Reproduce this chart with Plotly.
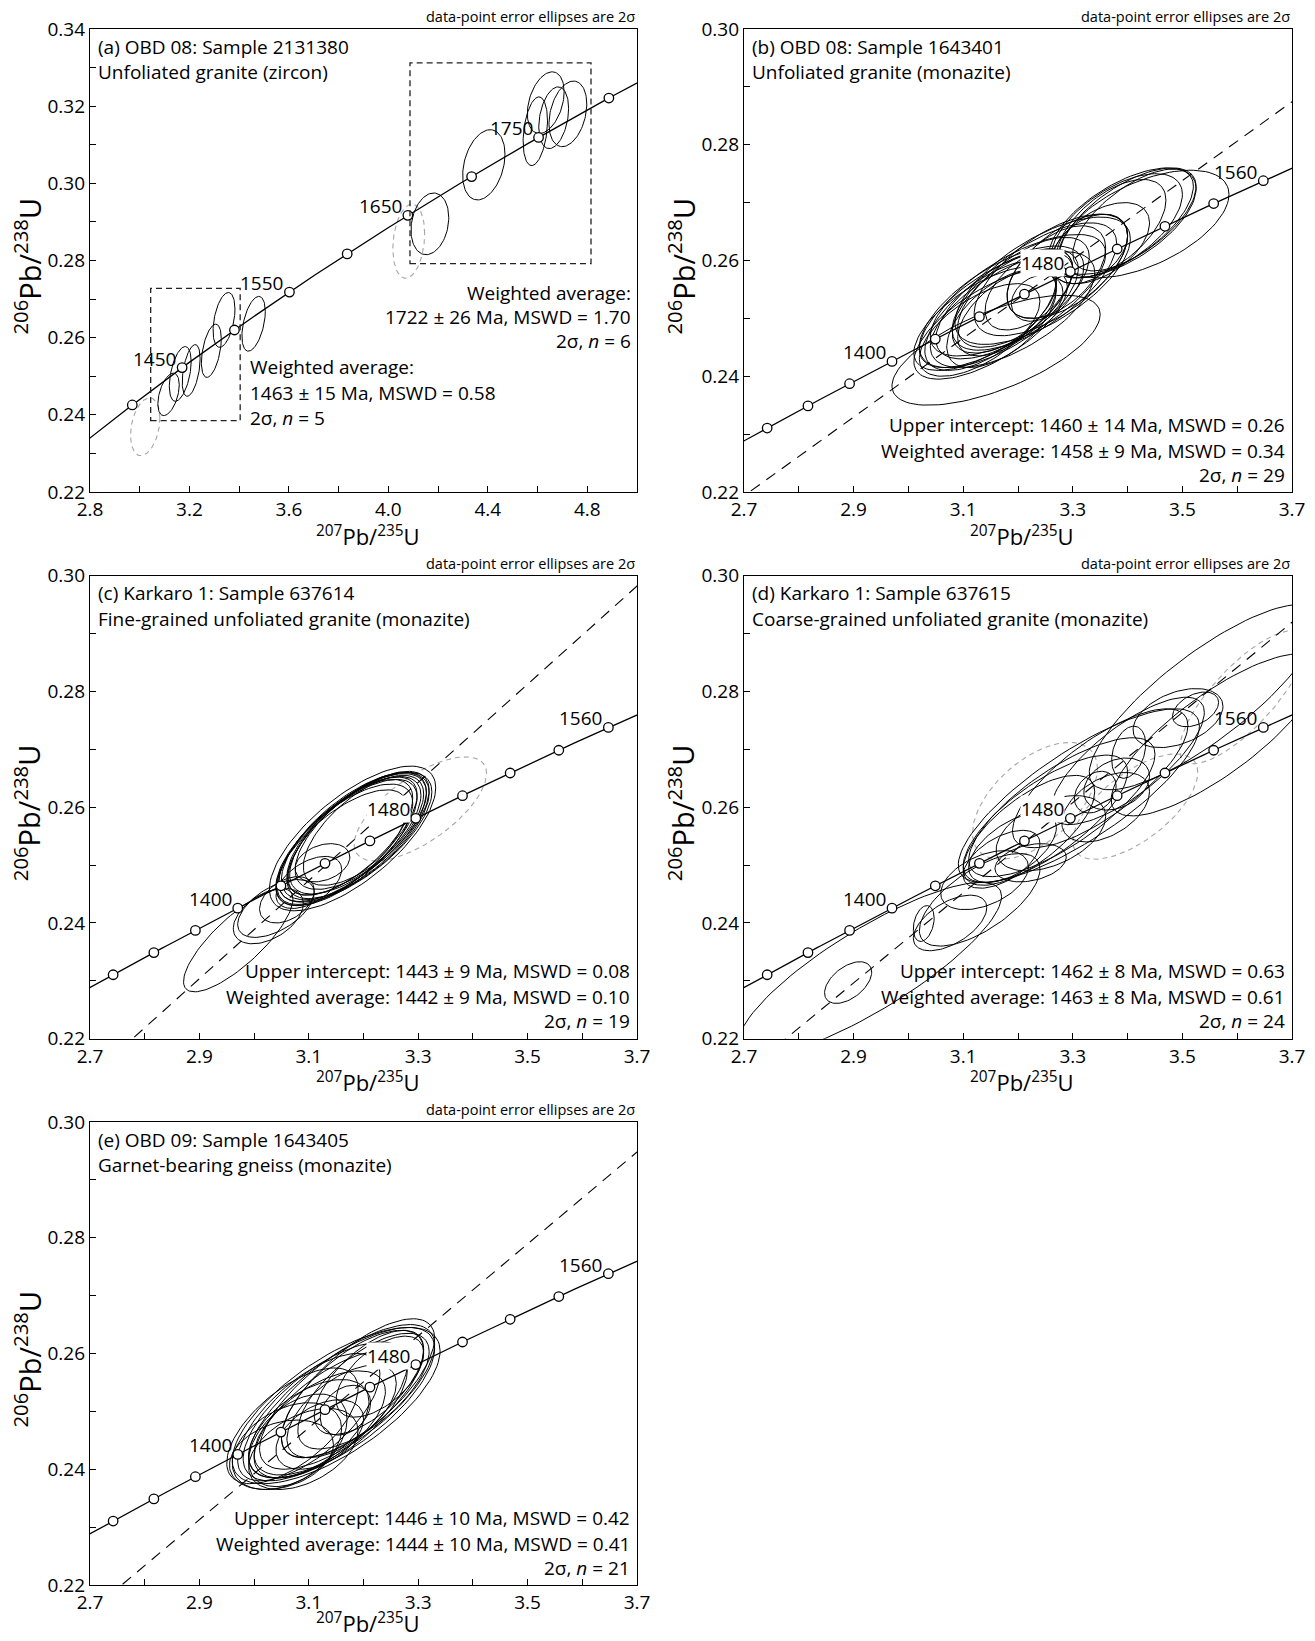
import numpy as np
import plotly.graph_objects as go

# ---------------- constants ----------------
LAMBDA_238 = 1.55125e-10
LAMBDA_235 = 9.8485e-10
FONT = "Open Sans"

# ---------------- panel (a) data ----------------
A_X = [3.116, 3.163, 3.207, 3.288, 3.339, 3.458, 3.022, 4.167, 4.384, 4.591, 4.633, 4.722, 4.665, 4.082]
A_Y = [0.2453, 0.2506, 0.2515, 0.2566, 0.2646, 0.2636, 0.2369, 0.2895, 0.3048, 0.3135, 0.3209, 0.3180, 0.3170, 0.2850]
A_SX = [0.043, 0.044, 0.036, 0.040, 0.044, 0.047, 0.059, 0.076, 0.085, 0.049, 0.074, 0.076, 0.060, 0.064]
A_SY = [0.0055, 0.0071, 0.0067, 0.0069, 0.0071, 0.0071, 0.0075, 0.0080, 0.0091, 0.0089, 0.0080, 0.0085, 0.0080, 0.0096]
A_RHO = [0.45, 0.45, 0.45, 0.45, 0.40, 0.45, 0.30, 0.20, 0.30, 0.30, 0.35, 0.30, 0.30, 0.20]
A_GREY = [0, 0, 0, 0, 0, 0, 1, 0, 0, 0, 0, 0, 0, 1]
A_TICK_AGES = [1400, 1450, 1500, 1550, 1600, 1650, 1700, 1750, 1800]
A_LABEL_AGES = [1450, 1550, 1650, 1750]
A_BOX_X0 = [3.044, 4.087]
A_BOX_X1 = [3.404, 4.815]
A_BOX_Y0 = [0.2385, 0.2792]
A_BOX_Y1 = [0.2728, 0.3312]

# ---------------- panel (b) data ----------------
B_X = [3.160, 3.430, 3.390, 3.400, 3.380, 3.410, 3.370, 3.350, 3.330, 3.245, 3.260, 3.230, 3.290, 3.270, 3.235,
       3.170, 3.160, 3.180, 3.150, 3.190, 3.140, 3.200, 3.170, 3.130, 3.210, 3.180, 3.220, 3.150, 3.190]
B_Y = [0.2445, 0.2663, 0.2665, 0.2668, 0.2660, 0.2670, 0.2655, 0.2630, 0.2620, 0.2565, 0.2575, 0.2555, 0.2590, 0.2580, 0.2535,
       0.2520, 0.2515, 0.2525, 0.2505, 0.2530, 0.2500, 0.2540, 0.2500, 0.2480, 0.2545, 0.2510, 0.2550, 0.2490, 0.2515]
B_SX = [0.190, 0.155, 0.135, 0.125, 0.120, 0.110, 0.100, 0.090, 0.070, 0.160, 0.140, 0.150, 0.110, 0.090, 0.047,
        0.150, 0.140, 0.130, 0.120, 0.110, 0.130, 0.160, 0.100, 0.110, 0.120, 0.090, 0.080, 0.140, 0.150]
B_SY = [0.0095, 0.0093, 0.0095, 0.0092, 0.0090, 0.0088, 0.0085, 0.0070, 0.0060, 0.0110, 0.0105, 0.0110, 0.0090, 0.0080, 0.0040,
        0.0105, 0.0100, 0.0095, 0.0095, 0.0090, 0.0090, 0.0105, 0.0085, 0.0080, 0.0095, 0.0075, 0.0070, 0.0095, 0.0100]
B_RHO = [0.65, 0.55, 0.62, 0.65, 0.60, 0.66, 0.58, 0.50, 0.40, 0.66, 0.64, 0.68, 0.58, 0.52, 0.25,
         0.66, 0.68, 0.64, 0.64, 0.62, 0.66, 0.68, 0.58, 0.62, 0.64, 0.58, 0.52, 0.68, 0.64]
B_GREY = [0] * 29

# ---------------- panel (c) data ----------------
C_X = [3.180, 3.185, 3.175, 3.190, 3.170, 3.195, 3.180, 3.165, 3.200, 3.185, 3.175, 3.160, 3.190, 3.125,
       3.026, 2.971, 3.060, 3.100, 3.040, 3.304]
C_Y = [0.2546, 0.2550, 0.2545, 0.2555, 0.2540, 0.2558, 0.2550, 0.2535, 0.2560, 0.2548, 0.2548, 0.2530, 0.2552, 0.2504,
       0.2412, 0.2370, 0.2440, 0.2470, 0.2425, 0.2597]
C_SX = [0.152, 0.135, 0.130, 0.125, 0.128, 0.120, 0.118, 0.125, 0.110, 0.140, 0.115, 0.120, 0.130, 0.050,
        0.064, 0.100, 0.050, 0.060, 0.070, 0.121]
C_SY = [0.0125, 0.0110, 0.0108, 0.0105, 0.0108, 0.0100, 0.0102, 0.0105, 0.0095, 0.0112, 0.0100, 0.0100, 0.0110, 0.0033,
        0.0048, 0.0089, 0.0040, 0.0045, 0.0050, 0.0090]
C_RHO = [0.70, 0.68, 0.70, 0.68, 0.71, 0.66, 0.70, 0.68, 0.66, 0.70, 0.68, 0.69, 0.70, 0.30,
         0.45, 0.80, 0.40, 0.50, 0.55, 0.68]
C_GREY = [0] * 19 + [1]

# ---------------- panel (d) data ----------------
D_X = [3.540, 3.560, 3.524, 3.492, 3.402, 2.930, 2.890, 3.028, 3.076, 3.139, 3.223, 3.341, 3.311, 3.280,
       3.250, 3.220, 3.350, 3.400, 3.190, 3.360, 3.260, 3.170, 3.380, 3.130, 3.231, 3.414, 3.610]
D_Y = [0.2790, 0.2725, 0.2769, 0.2754, 0.2695, 0.2320, 0.2297, 0.2399, 0.2400, 0.2474, 0.2504, 0.2626, 0.2620, 0.2600,
       0.2580, 0.2560, 0.2650, 0.2680, 0.2530, 0.2600, 0.2555, 0.2510, 0.2640, 0.2440, 0.2611, 0.2601, 0.2790]
D_SX = [0.210, 0.190, 0.042, 0.082, 0.031, 0.240, 0.043, 0.019, 0.067, 0.080, 0.065, 0.038, 0.220, 0.170,
        0.150, 0.120, 0.160, 0.140, 0.080, 0.080, 0.100, 0.070, 0.060, 0.110, 0.114, 0.114, 0.115]
D_SY = [0.0160, 0.0140, 0.0030, 0.0051, 0.0045, 0.0150, 0.0036, 0.0031, 0.0048, 0.0051, 0.0033, 0.0036, 0.0150, 0.0120,
        0.0110, 0.0095, 0.0120, 0.0110, 0.0060, 0.0060, 0.0065, 0.0050, 0.0045, 0.0080, 0.0101, 0.0091, 0.0115]
D_RHO = [0.82, 0.80, 0.40, 0.40, 0.30, 0.84, 0.50, 0.30, 0.55, 0.45, 0.30, 0.30, 0.80, 0.76,
         0.74, 0.70, 0.76, 0.76, 0.58, 0.45, 0.45, 0.55, 0.30, 0.66, 0.55, 0.65, 0.78]
D_GREY = [0] * 24 + [1, 1, 1]

# ---------------- panel (e) data ----------------
E_X = [3.150, 3.160, 3.130, 3.170, 3.100, 3.080, 3.120, 3.180, 3.200, 3.167, 3.060, 3.050, 3.090, 3.140,
       3.190, 3.210, 3.100, 3.070, 3.160, 3.230, 3.120]
E_Y = [0.2510, 0.2515, 0.2500, 0.2525, 0.2470, 0.2450, 0.2480, 0.2530, 0.2535, 0.2502, 0.2440, 0.2425, 0.2435, 0.2495,
       0.2540, 0.2550, 0.2490, 0.2475, 0.2500, 0.2560, 0.2460]
E_SX = [0.190, 0.170, 0.150, 0.160, 0.110, 0.090, 0.120, 0.130, 0.120, 0.046, 0.100, 0.095, 0.100, 0.140,
        0.140, 0.100, 0.130, 0.120, 0.100, 0.080, 0.080]
E_SY = [0.0135, 0.0130, 0.0120, 0.0125, 0.0085, 0.0080, 0.0090, 0.0110, 0.0100, 0.0043, 0.0075, 0.0060, 0.0070, 0.0110,
        0.0120, 0.0090, 0.0110, 0.0100, 0.0080, 0.0070, 0.0060]
E_RHO = [0.70, 0.72, 0.68, 0.72, 0.55, 0.45, 0.60, 0.68, 0.68, 0.30, 0.40, 0.30, 0.45, 0.68,
         0.72, 0.64, 0.68, 0.64, 0.60, 0.58, 0.45]
E_GREY = [0] * 21

# ---------------- monazite panels (b)-(e) shared ----------------
BE_TICK_AGES = [1340, 1360, 1380, 1400, 1420, 1440, 1460, 1480, 1500, 1520, 1540, 1560]
BE_LABEL_AGES = [1400, 1480, 1560]
UPPER_INTERCEPT_MA = [1460, 1443, 1462, 1446]
DISCORDIA_SLOPE = [0.0681, 0.0848, 0.0779, 0.0794]

TITLES = [
    ["(a) OBD 08: Sample 2131380", "Unfoliated granite (zircon)"],
    ["(b) OBD 08: Sample 1643401", "Unfoliated granite (monazite)"],
    ["(c) Karkaro 1: Sample 637614", "Fine-grained unfoliated granite (monazite)"],
    ["(d) Karkaro 1: Sample 637615", "Coarse-grained unfoliated granite (monazite)"],
    ["(e) OBD 09: Sample 1643405", "Garnet-bearing gneiss (monazite)"],
]
STATS = [
    None,
    ["Upper intercept: 1460 ± 14 Ma, MSWD = 0.26", "Weighted average: 1458 ± 9 Ma, MSWD = 0.34", "2σ, <i>n</i> = 29"],
    ["Upper intercept: 1443 ± 9 Ma, MSWD = 0.08", "Weighted average: 1442 ± 9 Ma, MSWD = 0.10", "2σ, <i>n</i> = 19"],
    ["Upper intercept: 1462 ± 8 Ma, MSWD = 0.63", "Weighted average: 1463 ± 8 Ma, MSWD = 0.61", "2σ, <i>n</i> = 24"],
    ["Upper intercept: 1446 ± 10 Ma, MSWD = 0.42", "Weighted average: 1444 ± 10 Ma, MSWD = 0.41", "2σ, <i>n</i> = 21"],
]
A_STATS_OLD = ["Weighted average:", "1722 ± 26 Ma, MSWD = 1.70", "2σ, <i>n</i> = 6"]
A_STATS_YOUNG = ["Weighted average:", "1463 ± 15 Ma, MSWD = 0.58", "2σ, <i>n</i> = 5"]
NOTE = "data-point error ellipses are 2σ"
X_TITLE = "<sup>207</sup>Pb/<sup>235</sup>U"
Y_TITLE = "<sup>206</sup>Pb/<sup>238</sup>U"

# ---------------- helpers ----------------
W, H = 1315, 1641
TXT = 19


def conc(t_ma):
    t = np.asarray(t_ma, dtype=float) * 1e6
    return np.exp(LAMBDA_235 * t) - 1.0, np.exp(LAMBDA_238 * t) - 1.0


def ellipse_path(cx, cy, sx, sy, rho, n=100):
    t = np.linspace(0, 2 * np.pi, n)
    x = cx + sx * np.cos(t)
    y = cy + sy * (rho * np.cos(t) + np.sqrt(1 - rho ** 2) * np.sin(t))
    return x, y


COLS = [(90, 637), (744, 1292)]
ROWS = [(29, 492), (575.7, 1038.7), (1122, 1585)]
XTITLE_GAP = [43, 43, 37]
PANEL_POS = [(0, 0), (1, 0), (0, 1), (1, 1), (0, 2)]
PANEL_DATA = [
    (A_X, A_Y, A_SX, A_SY, A_RHO, A_GREY),
    (B_X, B_Y, B_SX, B_SY, B_RHO, B_GREY),
    (C_X, C_Y, C_SX, C_SY, C_RHO, C_GREY),
    (D_X, D_Y, D_SX, D_SY, D_RHO, D_GREY),
    (E_X, E_Y, E_SX, E_SY, E_RHO, E_GREY),
]

fig = go.Figure()
annotations = []
shapes = []


def ann(**kw):
    base = dict(showarrow=False, font=dict(size=TXT, family=FONT, color="black"))
    base.update(kw)
    annotations.append(base)


for i in range(5):
    xa = "x" if i == 0 else f"x{i + 1}"
    ya = "y" if i == 0 else f"y{i + 1}"
    xdom = xa + " domain"
    ydom = ya + " domain"
    X, Y, SX, SY, RHO, GREY = PANEL_DATA[i]

    bx, by, gx, gy = [], [], [], []
    for cx, cy, sx, sy, r, g in zip(X, Y, SX, SY, RHO, GREY):
        ex, ey = ellipse_path(cx, cy, sx, sy, r)
        if g:
            gx += ex.tolist() + [None]
            gy += ey.tolist() + [None]
        else:
            bx += ex.tolist() + [None]
            by += ey.tolist() + [None]
    if gx:
        fig.add_trace(go.Scatter(x=gx, y=gy, mode="lines", xaxis=xa, yaxis=ya, hoverinfo="skip",
                                 line=dict(color="#a6a6a6", width=1.1, dash="5px,4px")))
    fig.add_trace(go.Scatter(x=bx, y=by, mode="lines", xaxis=xa, yaxis=ya, hoverinfo="skip",
                             line=dict(color="black", width=1.0)))

    if i > 0:
        xu, yu = conc(UPPER_INTERCEPT_MA[i - 1])
        dx = np.array([2.6, 3.8])
        dy = yu + DISCORDIA_SLOPE[i - 1] * (dx - xu)
        fig.add_trace(go.Scatter(x=dx, y=dy, mode="lines", xaxis=xa, yaxis=ya, hoverinfo="skip",
                                 line=dict(color="black", width=1.1, dash="11px,8px")))

    ages = np.arange(1200, 1951, 2)
    cxs, cys = conc(ages)
    fig.add_trace(go.Scatter(x=cxs, y=cys, mode="lines", xaxis=xa, yaxis=ya, hoverinfo="skip",
                             line=dict(color="black", width=1.3)))
    tick_ages = A_TICK_AGES if i == 0 else BE_TICK_AGES
    tx, ty = conc(tick_ages)
    fig.add_trace(go.Scatter(x=tx, y=ty, mode="markers", xaxis=xa, yaxis=ya, hoverinfo="skip",
                             marker=dict(size=9.5, color="white", line=dict(color="black", width=1.3))))
    label_ages = A_LABEL_AGES if i == 0 else BE_LABEL_AGES
    for age in label_ages:
        lx, ly = conc(age)
        ann(x=float(lx), y=float(ly), xref=xa, yref=ya, text=str(age), xanchor="right", yanchor="middle",
            xshift=-5, yshift=9, bgcolor="white" if age == 1480 else None, borderpad=0)

    ann(x=0.011, y=0.962, xref=xdom, yref=ydom, text=TITLES[i][0], xanchor="left", yanchor="middle")
    ann(x=0.011, y=0.907, xref=xdom, yref=ydom, text=TITLES[i][1], xanchor="left", yanchor="middle")
    ann(x=1.0, y=1.026, xref=xdom, yref=ydom, text=NOTE, xanchor="right", yanchor="middle",
        font=dict(size=14.5, family=FONT, color="black"))

    if i == 0:
        for t, yy in zip(A_STATS_OLD, [0.4305, 0.379, 0.327]):
            ann(x=0.993, y=yy, xref=xdom, yref=ydom, text=t, xanchor="right", yanchor="middle")
        for t, yy in zip(A_STATS_YOUNG, [0.2706, 0.2145, 0.1592]):
            ann(x=0.288, y=yy, xref=xdom, yref=ydom, text=t, xanchor="left", yanchor="middle")
        for x0, x1, y0, y1 in zip(A_BOX_X0, A_BOX_X1, A_BOX_Y0, A_BOX_Y1):
            shapes.append(dict(type="rect", xref=xa, yref=ya, x0=x0, x1=x1, y0=y0, y1=y1,
                               line=dict(color="#222222", width=1.3, dash="6px,4px")))
    else:
        for t, yy in zip(STATS[i], [0.1454, 0.0894, 0.0374]):
            ann(x=0.991, y=yy, xref=xdom, yref=ydom, text=t, xanchor="right", yanchor="middle")

layout_axes = {}
for i in range(5):
    c, r = PANEL_POS[i]
    x0, x1 = COLS[c]
    y0, y1 = ROWS[r]
    xkey = "xaxis" if i == 0 else f"xaxis{i + 1}"
    ykey = "yaxis" if i == 0 else f"yaxis{i + 1}"
    ya = "y" if i == 0 else f"y{i + 1}"
    xa = "x" if i == 0 else f"x{i + 1}"
    if i == 0:
        xr, xd, xm, x0t = [2.8, 5.0], 0.4, 0.2, 2.8
        yr = [0.22, 0.34]
    else:
        xr, xd, xm, x0t = [2.7, 3.7], 0.2, 0.1, 2.7
        yr = [0.22, 0.30]
    common = dict(ticks="inside", ticklen=6, tickwidth=1, tickcolor="black", showline=True, linecolor="black",
                  linewidth=1.2, mirror=True, showgrid=False, zeroline=False, automargin=False,
                  tickfont=dict(size=19, family=FONT, color="black"))
    layout_axes[xkey] = dict(common, domain=[x0 / W, x1 / W], range=xr, dtick=xd, tick0=x0t, anchor=ya,
                             tickformat=".1f",
                             minor=dict(dtick=xm, tick0=x0t, ticks="inside", ticklen=6, tickcolor="black",
                                        showgrid=False))
    layout_axes[ykey] = dict(common, domain=[1 - y1 / H, 1 - y0 / H], range=yr, dtick=0.02, tick0=0.22,
                             anchor=xa, tickformat=".2f",
                             minor=dict(dtick=0.01, tick0=0.22, ticks="inside", ticklen=6, tickcolor="black",
                                        showgrid=False))
    ann(x=((x0 + x1) / 2 + 4) / W, y=1 - (y1 + XTITLE_GAP[r]) / H, xref="paper", yref="paper", text=X_TITLE,
        xanchor="center", yanchor="middle", font=dict(size=22, family=FONT, color="black"))
    ann(x=(x0 - 63) / W, y=1 - ((y0 + y1) / 2 + 6) / H, xref="paper", yref="paper", text=Y_TITLE,
        textangle=-90, xanchor="center", yanchor="middle", font=dict(size=29, family=FONT, color="black"))

fig.update_layout(width=W, height=H, margin=dict(l=0, r=0, t=0, b=0), showlegend=False,
                  plot_bgcolor="white", paper_bgcolor="white", annotations=annotations, shapes=shapes,
                  font=dict(family=FONT, color="black"), **layout_axes)

fig.write_html("out.html", config={"displayModeBar": False},
               post_script="document.body.style.margin='0px';document.body.style.padding='0px';"
                           "document.documentElement.style.overflow='hidden';")
